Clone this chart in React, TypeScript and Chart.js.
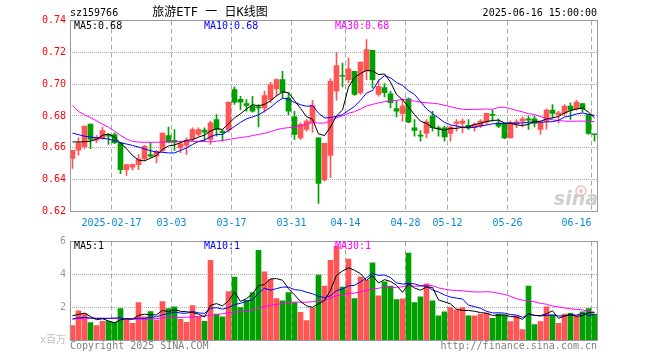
import React, { useEffect, useRef } from "react";
import { Chart, registerables } from "chart.js";

Chart.register(...registerables);

// ---------------- data ----------------
const stockCode = "sz159766";
const chartTitle = "旅游ETF 一 日K线图";
const stampText = "2025-06-16 15:00:00";

const dates = [
  "2025-02-06", "2025-02-07", "2025-02-10", "2025-02-11", "2025-02-12", "2025-02-13", "2025-02-14", "2025-02-17", "2025-02-18", "2025-02-19",
  "2025-02-20", "2025-02-21", "2025-02-24", "2025-02-25", "2025-02-26", "2025-02-27", "2025-02-28", "2025-03-03", "2025-03-04", "2025-03-05",
  "2025-03-06", "2025-03-07", "2025-03-10", "2025-03-11", "2025-03-12", "2025-03-13", "2025-03-14", "2025-03-17", "2025-03-18", "2025-03-19",
  "2025-03-20", "2025-03-21", "2025-03-24", "2025-03-25", "2025-03-26", "2025-03-27", "2025-03-28", "2025-03-31", "2025-04-01", "2025-04-02",
  "2025-04-03", "2025-04-07", "2025-04-08", "2025-04-09", "2025-04-10", "2025-04-11", "2025-04-14", "2025-04-15", "2025-04-16", "2025-04-17",
  "2025-04-18", "2025-04-21", "2025-04-22", "2025-04-23", "2025-04-24", "2025-04-25", "2025-04-28", "2025-04-29", "2025-04-30", "2025-05-06",
  "2025-05-07", "2025-05-08", "2025-05-09", "2025-05-12", "2025-05-13", "2025-05-14", "2025-05-15", "2025-05-16", "2025-05-19", "2025-05-20",
  "2025-05-21", "2025-05-22", "2025-05-23", "2025-05-26", "2025-05-27", "2025-05-28", "2025-05-29", "2025-05-30", "2025-06-03", "2025-06-04",
  "2025-06-05", "2025-06-06", "2025-06-09", "2025-06-10", "2025-06-11", "2025-06-12", "2025-06-13", "2025-06-16",
];

const xTickText: Record<string, string> = {
  "2025-02-17": "2025-02-17",
  "2025-03-03": "03-03",
  "2025-03-17": "03-17",
  "2025-03-31": "03-31",
  "2025-04-14": "04-14",
  "2025-04-28": "04-28",
  "2025-05-12": "05-12",
  "2025-05-26": "05-26",
  "2025-06-16": "06-16",
};

const open = [
  0.6534, 0.6586, 0.6607, 0.6749, 0.6648, 0.6659, 0.6684, 0.6684, 0.6631, 0.6463,
  0.6478, 0.6495, 0.6530, 0.6557, 0.6547, 0.6584, 0.6677, 0.6647, 0.6600, 0.6615,
  0.6657, 0.6684, 0.6711, 0.6653, 0.6778, 0.6705, 0.6711, 0.6966, 0.6904, 0.6878,
  0.6862, 0.6857, 0.6851, 0.6903, 0.6970, 0.7029, 0.6914, 0.6795, 0.6663, 0.6715,
  0.6757, 0.6663, 0.6398, 0.6552, 0.6956, 0.7056, 0.7029, 0.7081, 0.6945, 0.7081,
  0.7213, 0.6935, 0.6979, 0.6939, 0.6847, 0.6816, 0.6908, 0.6726, 0.6678, 0.6690,
  0.6799, 0.6726, 0.6726, 0.6690, 0.6753, 0.6753, 0.6742, 0.6726, 0.6736, 0.6761,
  0.6811, 0.6757, 0.6753, 0.6663, 0.6751, 0.6768, 0.6782, 0.6782, 0.6715, 0.6768,
  0.6837, 0.6809, 0.6816, 0.6862, 0.6845, 0.6878, 0.6809, 0.6687,
];
const high = [
  0.6584, 0.6663, 0.6736, 0.6749, 0.6678, 0.6730, 0.6690, 0.6695, 0.6634, 0.6495,
  0.6500, 0.6557, 0.6615, 0.6633, 0.6585, 0.6693, 0.6731, 0.6714, 0.6642, 0.6663,
  0.6726, 0.6726, 0.6726, 0.6768, 0.6809, 0.6715, 0.6887, 0.6983, 0.6924, 0.6903,
  0.6924, 0.6872, 0.6956, 0.7012, 0.7033, 0.7081, 0.6945, 0.6830, 0.6757, 0.6778,
  0.6899, 0.6663, 0.6628, 0.7033, 0.7200, 0.7133, 0.7165, 0.7081, 0.7138, 0.7280,
  0.7213, 0.7029, 0.7004, 0.6956, 0.6893, 0.6903, 0.6914, 0.6778, 0.6709, 0.6778,
  0.6830, 0.6736, 0.6736, 0.6736, 0.6778, 0.6782, 0.6778, 0.6757, 0.6778, 0.6816,
  0.6837, 0.6782, 0.6753, 0.6768, 0.6778, 0.6795, 0.6799, 0.6799, 0.6768, 0.6845,
  0.6872, 0.6830, 0.6872, 0.6883, 0.6899, 0.6878, 0.6809, 0.6687,
];
const low = [
  0.6471, 0.6554, 0.6594, 0.6594, 0.6632, 0.6653, 0.6621, 0.6626, 0.6438, 0.6426,
  0.6459, 0.6463, 0.6520, 0.6539, 0.6505, 0.6575, 0.6631, 0.6584, 0.6569, 0.6559,
  0.6642, 0.6674, 0.6642, 0.6621, 0.6674, 0.6642, 0.6699, 0.6872, 0.6841, 0.6830,
  0.6824, 0.6732, 0.6824, 0.6883, 0.6924, 0.6914, 0.6809, 0.6653, 0.6653, 0.6705,
  0.6699, 0.6251, 0.6391, 0.6412, 0.6899, 0.6983, 0.7008, 0.6929, 0.6935, 0.7029,
  0.6977, 0.6924, 0.6920, 0.6851, 0.6795, 0.6768, 0.6757, 0.6674, 0.6642, 0.6663,
  0.6705, 0.6674, 0.6642, 0.6642, 0.6705, 0.6694, 0.6715, 0.6705, 0.6726, 0.6747,
  0.6768, 0.6726, 0.6657, 0.6663, 0.6726, 0.6732, 0.6715, 0.6732, 0.6684, 0.6715,
  0.6788, 0.6757, 0.6799, 0.6778, 0.6837, 0.6824, 0.6684, 0.6642,
];
const close = [
  0.6584, 0.6632, 0.6736, 0.6653, 0.6665, 0.6709, 0.6674, 0.6632, 0.6463, 0.6495,
  0.6495, 0.6530, 0.6609, 0.6547, 0.6578, 0.6693, 0.6635, 0.6635, 0.6625, 0.6646,
  0.6715, 0.6715, 0.6699, 0.6757, 0.6715, 0.6695, 0.6887, 0.6887, 0.6887, 0.6866,
  0.6830, 0.6851, 0.6929, 0.6997, 0.7029, 0.6949, 0.6830, 0.6684, 0.6747, 0.6768,
  0.6866, 0.6377, 0.6628, 0.7018, 0.7117, 0.7050, 0.7096, 0.6935, 0.7138, 0.7217,
  0.7029, 0.6987, 0.6947, 0.6883, 0.6830, 0.6862, 0.6761, 0.6709, 0.6674, 0.6763,
  0.6726, 0.6720, 0.6669, 0.6730, 0.6763, 0.6768, 0.6726, 0.6747, 0.6768, 0.6816,
  0.6803, 0.6736, 0.6663, 0.6757, 0.6763, 0.6782, 0.6774, 0.6753, 0.6761, 0.6837,
  0.6816, 0.6820, 0.6862, 0.6837, 0.6887, 0.6845, 0.6690, 0.6682,
];
const volume = [
  0.90, 1.80, 1.64, 1.08, 0.90, 1.16, 1.16, 1.10, 1.94, 1.24,
  1.04, 2.30, 1.44, 1.76, 1.24, 2.36, 1.94, 2.04, 1.28, 1.10,
  2.12, 1.44, 1.16, 4.86, 1.60, 1.44, 2.96, 3.84, 2.00, 2.44,
  2.90, 5.46, 4.16, 3.70, 2.54, 2.40, 2.90, 2.30, 1.70, 1.20,
  1.96, 3.96, 3.30, 4.86, 5.70, 3.24, 4.94, 2.54, 3.84, 3.64,
  4.70, 2.70, 3.56, 3.30, 2.48, 2.52, 5.30, 2.30, 2.64, 3.44,
  2.40, 1.50, 1.74, 2.00, 1.86, 2.00, 1.50, 1.50, 1.60, 1.66,
  1.34, 1.60, 1.54, 1.14, 1.50, 0.66, 3.30, 0.96, 1.14, 2.04,
  1.56, 1.04, 1.60, 1.64, 1.50, 1.74, 1.94, 1.60,
];
const ma5 = [
  0.6637, 0.6637, 0.6638, 0.6642, 0.6654, 0.6679, 0.6687, 0.6667, 0.6629, 0.6595,
  0.6552, 0.6523, 0.6518, 0.6535, 0.6552, 0.6591, 0.6612, 0.6618, 0.6633, 0.6647,
  0.6651, 0.6667, 0.6680, 0.6706, 0.6720, 0.6716, 0.6751, 0.6788, 0.6814, 0.6844,
  0.6871, 0.6864, 0.6873, 0.6895, 0.6927, 0.6951, 0.6947, 0.6898, 0.6848, 0.6796,
  0.6779, 0.6688, 0.6677, 0.6731, 0.6801, 0.6838, 0.6982, 0.7043, 0.7067, 0.7087,
  0.7083, 0.7061, 0.7064, 0.7013, 0.6935, 0.6902, 0.6857, 0.6809, 0.6767, 0.6754,
  0.6727, 0.6718, 0.6710, 0.6722, 0.6722, 0.6730, 0.6731, 0.6747, 0.6754, 0.6765,
  0.6772, 0.6774, 0.6757, 0.6755, 0.6744, 0.6740, 0.6748, 0.6766, 0.6767, 0.6781,
  0.6788, 0.6797, 0.6819, 0.6834, 0.6844, 0.6850, 0.6824, 0.6788,
];
const ma10 = [
  0.6692, 0.6683, 0.6673, 0.6667, 0.6664, 0.6660, 0.6655, 0.6645, 0.6632, 0.6624,
  0.6615, 0.6605, 0.6593, 0.6582, 0.6573, 0.6572, 0.6568, 0.6568, 0.6584, 0.6599,
  0.6621, 0.6640, 0.6649, 0.6670, 0.6684, 0.6684, 0.6709, 0.6734, 0.6760, 0.6782,
  0.6794, 0.6807, 0.6830, 0.6854, 0.6886, 0.6911, 0.6906, 0.6885, 0.6871, 0.6861,
  0.6865, 0.6818, 0.6788, 0.6790, 0.6798, 0.6809, 0.6835, 0.6860, 0.6899, 0.6944,
  0.6960, 0.7022, 0.7053, 0.7040, 0.7011, 0.6992, 0.6959, 0.6936, 0.6890, 0.6845,
  0.6814, 0.6788, 0.6760, 0.6744, 0.6738, 0.6728, 0.6725, 0.6729, 0.6738, 0.6743,
  0.6751, 0.6753, 0.6752, 0.6755, 0.6755, 0.6756, 0.6761, 0.6762, 0.6761, 0.6763,
  0.6764, 0.6773, 0.6793, 0.6801, 0.6813, 0.6819, 0.6811, 0.6804,
];
const ma30 = [
  0.6868, 0.6828, 0.6808, 0.6790, 0.6770, 0.6748, 0.6730, 0.6705, 0.6678, 0.6656,
  0.6640, 0.6636, 0.6635, 0.6635, 0.6635, 0.6636, 0.6637, 0.6638, 0.6640, 0.6641,
  0.6641, 0.6640, 0.6639, 0.6638, 0.6642, 0.6646, 0.6652, 0.6659, 0.6665, 0.6669,
  0.6677, 0.6684, 0.6691, 0.6702, 0.6714, 0.6722, 0.6727, 0.6729, 0.6739, 0.6748,
  0.6760, 0.6755, 0.6756, 0.6771, 0.6789, 0.6801, 0.6817, 0.6827, 0.6844, 0.6863,
  0.6873, 0.6882, 0.6890, 0.6895, 0.6898, 0.6904, 0.6900, 0.6894, 0.6887, 0.6883,
  0.6880, 0.6876, 0.6867, 0.6858, 0.6849, 0.6843, 0.6840, 0.6842, 0.6842, 0.6844,
  0.6842, 0.6854, 0.6855, 0.6846, 0.6835, 0.6826, 0.6815, 0.6809, 0.6796, 0.6784,
  0.6776, 0.6771, 0.6768, 0.6767, 0.6768, 0.6768, 0.6766, 0.6765,
];
const vma5 = [
  1.50, 1.58, 1.66, 1.45, 1.264, 1.316, 1.188, 1.080, 1.252, 1.320,
  1.296, 1.524, 1.592, 1.556, 1.556, 1.820, 1.748, 1.868, 1.772, 1.744,
  1.696, 1.596, 1.420, 2.136, 2.236, 2.100, 2.404, 2.940, 2.368, 2.536,
  2.828, 3.328, 3.392, 3.732, 3.752, 3.652, 3.140, 2.768, 2.368, 2.100,
  2.012, 2.224, 2.424, 3.056, 3.956, 4.212, 4.408, 4.256, 4.052, 3.640,
  3.932, 3.484, 3.688, 3.580, 3.348, 2.912, 3.432, 3.180, 3.048, 3.240,
  3.216, 2.456, 2.344, 2.216, 1.900, 1.820, 1.820, 1.772, 1.692, 1.652,
  1.520, 1.540, 1.548, 1.456, 1.424, 1.288, 1.628, 1.512, 1.512, 1.620,
  1.800, 1.348, 1.476, 1.576, 1.468, 1.504, 1.684, 1.684,
];
const vma10 = [
  1.30, 1.38, 1.40, 1.36, 1.34, 1.34, 1.34, 1.36, 1.38, 1.292,
  1.306, 1.356, 1.336, 1.404, 1.438, 1.558, 1.636, 1.730, 1.664, 1.650,
  1.758, 1.672, 1.644, 1.954, 1.990, 1.898, 2.000, 2.180, 2.252, 2.386,
  2.464, 2.866, 3.166, 3.050, 3.144, 3.240, 3.234, 3.080, 3.050, 2.926,
  2.832, 2.682, 2.596, 2.712, 3.028, 3.112, 3.316, 3.340, 3.554, 3.798,
  4.072, 3.946, 3.972, 3.816, 3.494, 3.422, 3.458, 3.434, 3.314, 3.294,
  3.064, 2.944, 2.762, 2.632, 2.570, 2.518, 2.138, 2.058, 1.954, 1.776,
  1.670, 1.680, 1.660, 1.574, 1.538, 1.404, 1.584, 1.530, 1.484, 1.522,
  1.544, 1.488, 1.494, 1.544, 1.544, 1.652, 1.516, 1.580,
];
const vma30 = [
  1.30, 1.32, 1.34, 1.35, 1.35, 1.35, 1.34, 1.33, 1.32, 1.31,
  1.30, 1.29, 1.29, 1.30, 1.33, 1.36, 1.39, 1.40, 1.40, 1.41,
  1.43, 1.46, 1.49, 1.52, 1.56, 1.62, 1.68, 1.72, 1.74, 1.776,
  1.843, 1.965, 2.049, 2.136, 2.191, 2.232, 2.290, 2.330, 2.322, 2.321,
  2.351, 2.407, 2.469, 2.572, 2.721, 2.750, 2.850, 2.867, 2.952, 3.037,
  3.123, 3.165, 3.245, 3.193, 3.222, 3.258, 3.336, 3.285, 3.306, 3.339,
  3.323, 3.191, 3.110, 3.053, 3.031, 3.017, 2.971, 2.944, 2.941, 2.956,
  2.935, 2.857, 2.798, 2.674, 2.534, 2.448, 2.393, 2.341, 2.251, 2.197,
  2.093, 2.037, 1.972, 1.917, 1.884, 1.858, 1.746, 1.723,
];

const priceTicks = [0.62, 0.64, 0.66, 0.68, 0.70, 0.72, 0.74];
const volTicks = [0, 2, 4, 6];
const volUnit = "x百万";
const copyrightText = "Copyright 2025 SINA.COM";
const urlText = "http://finance.sina.com.cn";
const watermark = "sina";

// ---------------- style ----------------
const MONO = "'DejaVu Sans Mono', 'Noto Sans CJK SC', monospace";
const RED = "#ff5555";
const GREEN = "#00a000";
const GRID = "#aaaaaa";
const FRAME = "#999999";
const XLBL = "#0a88d8";
const C_MA5 = "#000000";
const C_MA10 = "#0000ff";
const C_MA30 = "#ff00ff";

const candleColors = close.map((c, i) => (c >= open[i] ? RED : GREEN));

function xScale(showLabels: boolean, height: number) {
  return {
    type: "category",
    offset: true,
    grid: {
      offset: true,
      drawTicks: false,
      lineWidth: 1,
      color: (ctx: any) => (ctx.tick && ctx.tick.label ? GRID : "rgba(0,0,0,0)"),
    },
    border: { display: false, dash: [5, 3] },
    ticks: {
      display: showLabels,
      autoSkip: false,
      maxRotation: 0,
      minRotation: 0,
      color: XLBL,
      padding: 5.5,
      labelOffset: -3,
      font: { family: MONO, size: 10 },
      callback: (_v: any, i: number) => {
        const t = xTickText[dates[i]];
        if (!t) return "";
        return i === dates.length - 1 ? t + "     " : t;
      },
    },
    afterFit: (s: any) => {
      s.height = height;
    },
  };
}

function lineDs(label: string, data: number[], color: string) {
  return {
    type: "line",
    label,
    data,
    borderColor: color,
    borderWidth: 1,
    pointRadius: 0,
    fill: false,
    tension: 0,
    order: 0,
  };
}

function framePlugin(id: string) {
  return {
    id,
    afterDatasetsDraw(chart: any) {
      const { ctx, chartArea: a } = chart;
      ctx.save();
      ctx.strokeStyle = FRAME;
      ctx.lineWidth = 1;
      ctx.strokeRect(70.5, Math.floor(a.top) + 0.5, 527, Math.round(a.bottom - a.top));
      ctx.restore();
    },
  };
}

const priceTextPlugin = {
  id: "priceText",
  afterDraw(chart: any) {
    const ctx = chart.ctx;
    ctx.save();
    ctx.textBaseline = "middle";
    ctx.font = `10px ${MONO}`;
    ctx.fillStyle = "#000";
    ctx.textAlign = "left";
    ctx.fillText(stockCode, 70, 13);
    ctx.textAlign = "right";
    ctx.fillText(stampText, 597, 13);
    ctx.font = `12px ${MONO}`;
    ctx.textAlign = "center";
    ctx.fillText(chartTitle, 210, 13);

    ctx.font = `10px ${MONO}`;
    ctx.textAlign = "left";
    const n = close.length - 1;
    ctx.fillStyle = C_MA5;
    ctx.fillText("MA5:" + ma5[n].toFixed(2), 74, 26);
    ctx.fillStyle = C_MA10;
    ctx.fillText("MA10:" + ma10[n].toFixed(2), 204, 26);
    ctx.fillStyle = C_MA30;
    ctx.fillText("MA30:" + ma30[n].toFixed(2), 335, 26);

    // watermark
    ctx.globalAlpha = 0.55;
    ctx.strokeStyle = "#f08080";
    ctx.lineWidth = 1.5;
    ctx.beginPath();
    ctx.arc(581, 191, 5, 0, Math.PI * 2);
    ctx.stroke();
    ctx.fillStyle = "#f08080";
    ctx.beginPath();
    ctx.arc(581, 191, 2, 0, Math.PI * 2);
    ctx.fill();
    ctx.globalAlpha = 1;
    ctx.font = `italic bold 19px 'DejaVu Sans', sans-serif`;
    ctx.fillStyle = "#cfcfcf";
    ctx.textAlign = "right";
    ctx.textBaseline = "alphabetic";
    ctx.fillText(watermark, 598, 205);
    ctx.restore();
  },
};

const volTextPlugin = {
  id: "volText",
  afterDraw(chart: any) {
    const ctx = chart.ctx;
    ctx.save();
    ctx.textBaseline = "middle";
    ctx.font = `10px ${MONO}`;
    ctx.textAlign = "left";
    const n = volume.length - 1;
    ctx.fillStyle = C_MA5;
    ctx.fillText("MA5:" + Math.floor(vma5[n]), 74, 14);
    ctx.fillStyle = C_MA10;
    ctx.fillText("MA10:" + Math.floor(vma10[n]), 204, 14);
    ctx.fillStyle = C_MA30;
    ctx.fillText("MA30:" + Math.floor(vma30[n]), 335, 14);
    ctx.fillStyle = "#808080";
    ctx.fillText(copyrightText, 70, 114);
    ctx.textAlign = "right";
    ctx.fillText(urlText, 597, 114);
    ctx.restore();
  },
};

function priceConfig(): any {
  return {
    type: "bar",
    data: {
      labels: dates,
      datasets: [
        lineDs("MA5", ma5, C_MA5),
        lineDs("MA10", ma10, C_MA10),
        lineDs("MA30", ma30, C_MA30),
        {
          type: "bar",
          label: "body",
          data: open.map((o, i) => [o, close[i]]),
          backgroundColor: candleColors,
          barThickness: 5,
          minBarLength: 1,
          grouped: false,
          borderWidth: 0,
          order: 1,
        },
        {
          type: "bar",
          label: "wick",
          data: low.map((l, i) => [l, high[i]]),
          backgroundColor: candleColors,
          barThickness: 1,
          minBarLength: 1,
          grouped: false,
          borderWidth: 0,
          order: 2,
        },
      ],
    },
    options: {
      animation: false,
      responsive: false,
      events: [],
      layout: { padding: { left: 0, right: 62.5, top: 20.5, bottom: 0 } },
      plugins: { legend: { display: false }, tooltip: { enabled: false } },
      scales: {
        x: xScale(true, 20.5),
        y: {
          type: "linear",
          position: "left",
          min: priceTicks[0],
          max: priceTicks[priceTicks.length - 1],
          afterBuildTicks: (s: any) => {
            s.ticks = priceTicks.map((v) => ({ value: v }));
          },
          afterFit: (s: any) => {
            s.width = 69.5;
          },
          grid: {
            drawTicks: false,
            lineWidth: 1,
            color: (ctx: any) =>
              ctx.index === 0 || ctx.index === priceTicks.length - 1 ? "rgba(0,0,0,0)" : GRID,
          },
          border: { display: false, dash: [1, 1] },
          ticks: {
            color: "#ff0000",
            padding: 3.5,
            font: { family: MONO, size: 10 },
            callback: (v: any) => Number(v).toFixed(2),
          },
        },
      },
    },
    plugins: [framePlugin("priceFrame"), priceTextPlugin],
  };
}

function volConfig(): any {
  return {
    type: "bar",
    data: {
      labels: dates,
      datasets: [
        lineDs("MA5", vma5, C_MA5),
        lineDs("MA10", vma10, C_MA10),
        lineDs("MA30", vma30, C_MA30),
        {
          type: "bar",
          label: "volume",
          data: volume,
          backgroundColor: candleColors,
          barThickness: 5,
          grouped: false,
          borderWidth: 0,
          order: 1,
        },
      ],
    },
    options: {
      animation: false,
      responsive: false,
      events: [],
      layout: { padding: { left: 0, right: 62.5, top: 8.5, bottom: 0 } },
      plugins: { legend: { display: false }, tooltip: { enabled: false } },
      scales: {
        x: xScale(false, 19.5),
        y: {
          type: "linear",
          position: "left",
          min: volTicks[0],
          max: volTicks[volTicks.length - 1],
          afterBuildTicks: (s: any) => {
            s.ticks = volTicks.map((v) => ({ value: v }));
          },
          afterFit: (s: any) => {
            s.width = 69.5;
          },
          grid: {
            drawTicks: false,
            lineWidth: 1,
            color: (ctx: any) =>
              ctx.index === 0 || ctx.index === volTicks.length - 1 ? "rgba(0,0,0,0)" : GRID,
          },
          border: { display: false, dash: [1, 1] },
          ticks: {
            color: (ctx: any) => (ctx.tick && ctx.tick.value === 0 ? "#c0c0c0" : "#999999"),
            padding: 3.5,
            font: { family: MONO, size: 10 },
            callback: (v: any) => (Number(v) === 0 ? volUnit : String(v)),
          },
        },
      },
    },
    plugins: [framePlugin("volFrame"), volTextPlugin],
  };
}

export default function App() {
  const priceRef = useRef<HTMLCanvasElement>(null);
  const volRef = useRef<HTMLCanvasElement>(null);

  useEffect(() => {
    const c1 = new Chart(priceRef.current as HTMLCanvasElement, priceConfig());
    const c2 = new Chart(volRef.current as HTMLCanvasElement, volConfig());
    return () => {
      c1.destroy();
      c2.destroy();
    };
  }, []);

  return (
    <div style={{ position: "absolute", left: 0, top: 0, width: 660, height: 360, background: "#fff" }}>
      <canvas
        ref={priceRef}
        width={660}
        height={232}
        style={{ position: "absolute", left: 0, top: 0, width: 660, height: 232 }}
      />
      <canvas
        ref={volRef}
        width={660}
        height={128}
        style={{ position: "absolute", left: 0, top: 232, width: 660, height: 128 }}
      />
    </div>
  );
}
